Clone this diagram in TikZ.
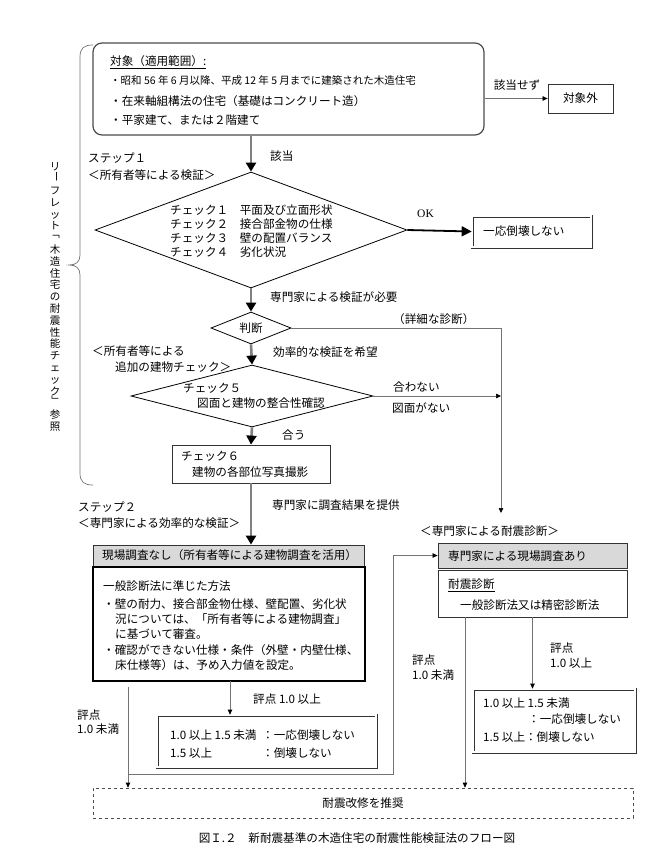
\documentclass[tikz,border=0pt]{standalone}
\usepackage{fontspec}
\usepackage{graphicx}
\setmainfont{Noto Sans CJK JP}
\newfontfamily\okfont{Liberation Serif}
\usetikzlibrary{arrows.meta,shapes.geometric}
\newcommand\vch[1]{\makebox[1em]{\raisebox{0pt}[0.85em][0.15em]{#1}}}
\newcommand\vrot[1]{\makebox[1em]{\raisebox{0pt}[0.85em][0.15em]{\raisebox{0.35em}{\rotatebox[origin=c]{-90}{#1}}}}}
\begin{document}
\begin{tikzpicture}[x=1pt,y=-1pt,
  txt/.style={inner sep=0pt, font=\fontsize{11.6}{14}\selectfont},
  lbl/.style={txt, anchor=west},
  thickarr/.style={draw=black!50, line width=2.6pt, -{Triangle[length=9pt,width=10pt,color=black]}},
  okarr/.style={draw=black, line width=1.8pt, -{Triangle[length=10pt,width=10pt,color=black]}},
  thinarr/.style={draw=black!55, line width=0.7pt, -{Triangle[length=5pt,width=4.5pt,color=black]}},
  thinline/.style={draw=black!55, line width=0.7pt},
  box/.style={rectangle, inner sep=0pt, draw=black!80, line width=0.8pt},
  graybox/.style={box, fill=black!15},
  dbox/.style={rectangle, inner sep=0pt, draw=black!80, double=white, double distance=1.6pt, line width=0.7pt},
  dia/.style={diamond, inner sep=0pt, draw=black, line width=0.8pt},
]
\useasboundingbox (0,0) rectangle (669,855);

% left brace and vertical text
\draw[black!55, line width=0.7pt] (93,45) .. controls (84,45) and (80,48) .. (80,57) -- (80,255)
  .. controls (80,262) and (76,265) .. (69,265) .. controls (76,265) and (80,268) .. (80,275)
  -- (80,473) .. controls (80,482) and (84,485) .. (93,485);
\node[txt, align=center, font=\fontsize{10.5}{11.8}\selectfont] (vtext) at (55,297)
  {\vch{リ}\\\vrot{ー}\\\vch{フ}\\\vch{レ}\\\vch{ッ}\\\vch{ト}\\\vrot{「}\\\vch{木}\\\vch{造}\\\vch{住}\\\vch{宅}\\\vch{の}\\\vch{耐}\\\vch{震}\\\vch{性}\\\vch{能}\\\vch{チ}\\\vch{ェ}\\\vch{ッ}\\\vch{ク}\\\vrot{」}\\\vch{参}\\\vch{照}};

% top box
\node[box, draw=black!70, line width=1.2pt, rounded corners=9pt, minimum width=391pt, minimum height=92pt] (topbox) at (288.5,89) {};
\node[lbl] (t0) at (110,62) {\underline{対象（適用範囲）:}};
\node[lbl, font=\fontsize{10.5}{13}\selectfont] (t1) at (110,81) {・昭和 56 年 6 月以降、平成 12 年 5 月までに建築された木造住宅};
\node[lbl] (t2) at (110,101) {・在来軸組構法の住宅（基礎はコンクリート造）};
\node[lbl] (t3) at (110,120) {・平家建て、または２階建て};

\node[box, minimum width=65pt, minimum height=29pt, txt] (outside) at (580.5,98.5) {対象外};
\draw[thinarr] (topbox.east |- outside.west) -- (outside.west);
\node[txt] (l_gaitousezu) at (517,85) {該当せず};

% step 1
\node[lbl] (step1) at (88,158) {ステップ１};
\node[lbl] (step1b) at (88,175) {＜所有者等による検証＞};
\node[dia, minimum width=312pt, minimum height=116pt] (d1) at (251,230) {};
\draw[thickarr] (topbox.south -| d1.north) -- (d1.north);
\node[lbl] (l_gaitou) at (270,156) {該当};
\node[txt, anchor=north west, align=left] (d1text) at (170,205)
  {チェック１　平面及び立面形状\\チェック２　接合部金物の仕様\\チェック３　壁の配置バランス\\チェック４　劣化状況};

\node[dbox, minimum width=119pt, minimum height=31pt] (ok) at (531.5,231.5) {};
\node[lbl] (oktext) at (483,231) {一応倒壊しない};
\draw[okarr] (d1.east) -- (ok.west);
\node[txt, anchor=west, font=\okfont\fontsize{11.5}{13}\selectfont] (l_ok) at (417,214) {OK};

% judgement
\node[dia, minimum width=80pt, minimum height=32pt] (judge) at (251,328) {};
\node[txt] (judgetext) at (251,328) {判断};
\draw[thickarr] (d1.south) -- (judge.north);
\node[lbl] (l_senmon) at (270,297) {専門家による検証が必要};
\coordinate (jr) at (501,328);
\coordinate (rdown) at (501,513);
\draw[thinline] (judge.east) -- (jr);
\draw[thinarr] (jr) -- (rdown);
\node[lbl] (l_shousai) at (393,319) {（詳細な診断）};

% check 5
\node[lbl] (add1) at (92,351) {＜所有者等による};
\node[lbl] (add2) at (115,367) {追加の建物チェック＞};
\node[dia, minimum width=242pt, minimum height=62pt] (d5) at (252,396) {};
\draw[thickarr] (judge.south) -- (d5.north);
\node[lbl] (l_kouritsu) at (273,352) {効率的な検証を希望};
\node[lbl] (d5a) at (183,388) {チェック５};
\node[lbl] (d5b) at (197,403) {図面と建物の整合性確認};
\draw[thinarr] (d5.east) -- (d5.east -| jr);
\node[lbl] (l_awanai) at (393,387) {合わない};
\node[lbl] (l_zumen) at (392,408) {図面がない};

% check 6
\node[box, minimum width=158pt, minimum height=38pt] (c6) at (251,464) {};
\draw[thickarr] (d5.south) -- (c6.north);
\node[lbl] (l_au) at (282,435) {合う};
\node[lbl] (c6a) at (181,456) {チェック６};
\node[lbl] (c6b) at (192,472) {建物の各部位写真撮影};

% step 2
\node[lbl] (step2) at (78,507) {ステップ２};
\node[lbl] (step2b) at (78,523) {＜専門家による効率的な検証＞};
\node[graybox, minimum width=271pt, minimum height=21pt] (lhead) at (228.5,555.5) {};
\node[lbl] (lheadtext) at (102,555.5) {現場調査なし（所有者等による建物調査を活用）};
\draw[thickarr] (c6.south) -- (c6.south |- lhead.north);
\node[lbl] (l_teikyou) at (272,505) {専門家に調査結果を提供};

\node[box, draw=black, line width=1.6pt, minimum width=272pt, minimum height=114pt] (lmain) at (229,624) {};
\node[lbl] (m1) at (103,586) {一般診断法に準じた方法};
\node[lbl] (m2) at (103,604) {・壁の耐力、接合部金物仕様、壁配置、劣化状};
\node[lbl] (m3) at (115,619) {況については、「所有者等による建物調査」};
\node[lbl] (m4) at (115,634) {に基づいて審査。};
\node[lbl] (m5) at (103,650) {・確認ができない仕様・条件（外壁・内壁仕様、};
\node[lbl] (m6) at (115,665) {床仕様等）は、予め入力値を設定。};

\node[dbox, minimum width=219pt, minimum height=52pt] (lres) at (266.5,741) {};
\coordinate (la) at (230,681);
\draw[thinarr] (la) -- (la |- lres.north);
\node[lbl] (l_hyouten1) at (253,699) {評点 1.0 以上};
\node[lbl] (lr1) at (170,735) {1.0 以上 1.5 未満};
\node[lbl] (lr1b) at (262,735) {：一応倒壊しない};
\node[lbl] (lr2) at (170,753) {1.5 以上};
\node[lbl] (lr2b) at (262,753) {：倒壊しない};

\node[lbl] (l_hyouten2a) at (77,715) {評点};
\node[lbl] (l_hyouten2b) at (77,729) {1.0 未満};

% right side
\node[lbl] (rlabel) at (420,531) {＜専門家による耐震診断＞};
\node[graybox, minimum width=189pt, minimum height=25pt] (rhead) at (532.5,555.5) {};
\node[lbl] (rheadtext) at (448,556) {専門家による現場調査あり};
\node[box, minimum width=189pt, minimum height=47pt] (rmain) at (532.5,593.5) {};
\node[lbl] (r1) at (448,585) {\underline{耐震診断}};
\node[lbl] (r2) at (460,605) {一般診断法又は精密診断法};

\node[dbox, minimum width=162pt, minimum height=63pt] (rres) at (554,720.5) {};
\node[lbl] (rr1) at (483,703) {1.0 以上 1.5 未満};
\node[lbl] (rr2) at (528,719) {：一応倒壊しない};
\node[lbl] (rr3) at (483,737) {1.5 以上：倒壊しない};
\draw[thinarr] (rmain.south) -- (rmain.south |- rres.north);
\node[lbl] (l_hyouten3a) at (550,648) {評点};
\node[lbl] (l_hyouten3b) at (550,663) {1.0 以上};
\node[lbl] (l_hyouten4a) at (412,660) {評点};
\node[lbl] (l_hyouten4b) at (412,675) {1.0 未満};

% bottom
\node[rectangle, draw=black!70, dashed, line width=0.7pt, minimum width=540pt, minimum height=30pt, txt] (dash) at (363,803) {耐震改修を推奨};
\coordinate (lv) at (128,687);
\draw[thinarr] (lv) -- (lv |- dash.north);
\coordinate (lh) at (128,774);
\coordinate (rv) at (393,774);
\draw[thinarr] (lh) -- (rv) |- (rhead.west);
\coordinate (rd1) at (465,617);
\draw[thinarr] (rd1) -- (rd1 |- dash.north);

\node[txt] (caption) at (357,838) {図Ｉ.２　新耐震基準の木造住宅の耐震性能検証法のフロー図};
\end{tikzpicture}
\end{document}
